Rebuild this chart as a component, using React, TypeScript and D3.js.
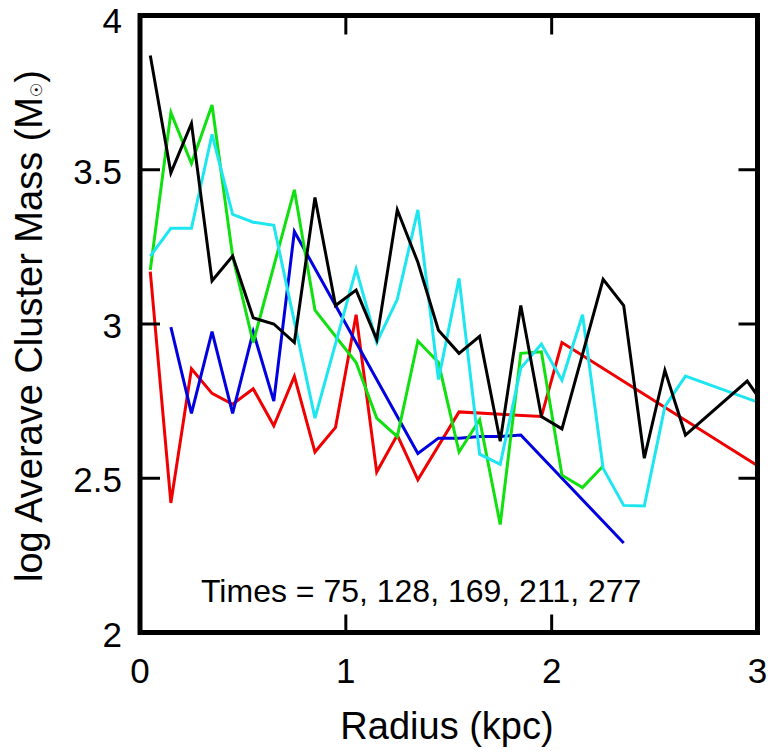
import * as d3 from "d3";

// radius (kpc) and log mass for each snapshot
const redR = [0.05, 0.15, 0.25, 0.35, 0.45, 0.55, 0.65, 0.75, 0.85, 0.95, 1.05, 1.15, 1.25, 1.35, 1.55, 1.95, 2.05, 3.05];
const redV = [3.17, 2.42, 2.855, 2.775, 2.74, 2.79, 2.67, 2.83, 2.585, 2.665, 3.03, 2.52, 2.64, 2.495, 2.715, 2.7, 2.94, 2.52];

const blueR = [0.15, 0.25, 0.35, 0.45, 0.55, 0.65, 0.75, 1.35, 1.45, 1.55, 1.65, 1.75, 1.85, 2.35];
const blueV = [2.99, 2.71, 2.975, 2.71, 2.975, 2.75, 3.3, 2.58, 2.63, 2.63, 2.635, 2.635, 2.64, 2.29];

const greenR = [0.05, 0.15, 0.25, 0.35, 0.45, 0.55, 0.75, 0.85, 1.05, 1.15, 1.25, 1.35, 1.45, 1.55, 1.65, 1.75, 1.85, 1.95, 2.05, 2.15, 2.25];
const greenV = [3.175, 3.685, 3.52, 3.71, 3.22, 2.94, 3.435, 3.045, 2.875, 2.695, 2.635, 2.945, 2.875, 2.585, 2.69, 2.35, 2.905, 2.91, 2.51, 2.47, 2.54];

const cyanR = [0.05, 0.15, 0.25, 0.35, 0.45, 0.55, 0.65, 0.85, 1.05, 1.15, 1.25, 1.35, 1.45, 1.55, 1.65, 1.75, 1.85, 1.95, 2.05, 2.15, 2.25, 2.35, 2.45, 2.55, 2.65, 3.05];
const cyanV = [3.22, 3.31, 3.31, 3.615, 3.355, 3.33, 3.32, 2.695, 3.178, 2.94, 3.08, 3.37, 2.82, 3.148, 2.578, 2.545, 2.857, 2.935, 2.818, 3.03, 2.532, 2.412, 2.41, 2.732, 2.831, 2.735];

const blackR = [0.05, 0.15, 0.25, 0.35, 0.45, 0.55, 0.65, 0.75, 0.85, 0.95, 1.05, 1.15, 1.25, 1.35, 1.45, 1.55, 1.65, 1.75, 1.85, 1.95, 2.05, 2.25, 2.35, 2.45, 2.55, 2.65, 2.95, 3.05];
const blackV = [3.87, 3.49, 3.65, 3.14, 3.22, 3.02, 3.0, 2.94, 3.41, 3.06, 3.11, 2.95, 3.37, 3.2, 2.98, 2.905, 2.96, 2.62, 3.06, 2.7, 2.66, 3.145, 3.06, 2.565, 2.85, 2.64, 2.815, 2.72];

const xTicks = [0, 1, 2, 3];
const yTicks = [2, 2.5, 3, 3.5, 4];
const xInner = [1, 2];
const yInner = [2.5, 3, 3.5];

const series = [
  { r: redR, v: redV, color: "#f00000" },
  { r: blueR, v: blueV, color: "#0000e0" },
  { r: greenR, v: greenV, color: "#10e010" },
  { r: cyanR, v: cyanV, color: "#1ee6f0" },
  { r: blackR, v: blackV, color: "#000000" },
];

const font = "'Liberation Sans', Arial, sans-serif";

export default function App() {
  const left = 140, right = 757.5, top = 15.5, bottom = 632.5;
  const x = d3.scaleLinear().domain([0, 3]).range([left, right]);
  const y = d3.scaleLinear().domain([2, 4]).range([bottom, top]);

  const line = d3
    .line<[number, number]>()
    .x((d) => x(d[0]))
    .y((d) => y(d[1]));

  return (
    <svg
      width={773}
      height={753}
      style={{ position: "absolute", left: 0, top: 0, background: "#fff" }}
    >
      <defs>
        <clipPath id="plot">
          <rect x={left} y={top} width={right - left} height={bottom - top} />
        </clipPath>
      </defs>

      <g clipPath="url(#plot)" fill="none" strokeWidth={3} strokeLinejoin="miter">
        {series.map((s, i) => (
          <path
            key={i}
            d={line(s.r.map((r, j) => [r, s.v[j]] as [number, number])) ?? ""}
            stroke={s.color}
          />
        ))}
      </g>

      {/* ticks on all four sides, pointing inwards */}
      <g stroke="#000" strokeWidth={3}>
        {xInner.map((t) => (
          <g key={t}>
            <line x1={x(t)} x2={x(t)} y1={bottom} y2={bottom - 18} />
            <line x1={x(t)} x2={x(t)} y1={top} y2={top + 19} />
          </g>
        ))}
        {yInner.map((t) => (
          <g key={t}>
            <line x1={left} x2={left + 20} y1={y(t)} y2={y(t)} />
            <line x1={right} x2={right - 19} y1={y(t)} y2={y(t)} />
          </g>
        ))}
      </g>

      <rect
        x={left}
        y={top}
        width={right - left}
        height={bottom - top}
        fill="none"
        stroke="#000"
        strokeWidth={5}
      />

      <g fontFamily={font} fontSize={35} fill="#000">
        {xTicks.map((t) => (
          <text key={t} x={x(t)} y={683} textAnchor="middle">
            {t}
          </text>
        ))}
        {yTicks.map((t) => (
          <text key={t} x={122} y={Math.max(y(t) + 14, 33)} textAnchor="end">
            {t}
          </text>
        ))}
      </g>

      <text x={201} y={602} fontFamily={font} fontSize={32}>
        Times = 75, 128, 169, 211, 277
      </text>

      <text x={447} y={739} fontFamily={font} fontSize={38} textAnchor="middle">
        Radius (kpc)
      </text>

      <text
        transform="translate(42,326) rotate(-90)"
        fontFamily={font}
        fontSize={38}
        textAnchor="middle"
      >
        log Averave Cluster Mass (M
        <tspan fontFamily="'DejaVu Sans'" fontSize={16}>☉</tspan>)
      </text>
    </svg>
  );
}
